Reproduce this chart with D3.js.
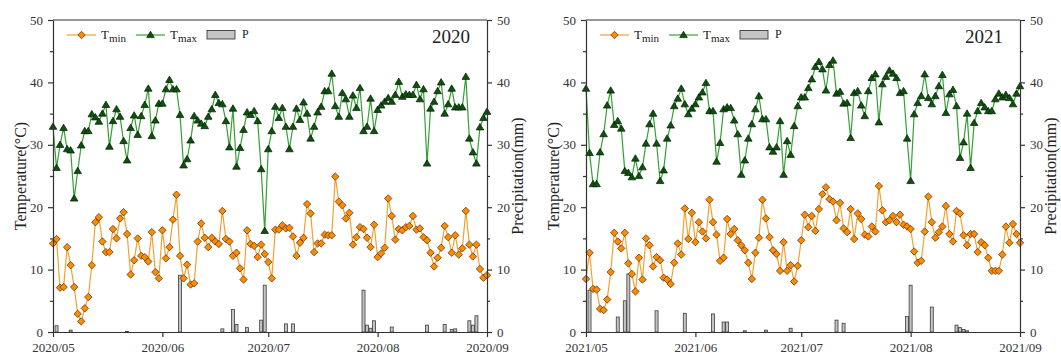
<!DOCTYPE html>
<html>
<head>
<meta charset="utf-8">
<script src="https://cdn.jsdelivr.net/npm/d3@7"></script>
<style>
  body { margin: 0; background: #fff; }
</style>
</head>
<body>
<div id="chart"></div>
<script>
/* global d3 */

// daily values, 1 May -> 1 Sep
const tmin2020 = [
  14.2, 14.9, 7.1, 7.2, 13.6, 10.7, 7.2, 2.9, 1.7, 3.8, 5.6, 10.7, 17.6, 18.4, 14.5, 12.8,
  12.8, 16.5, 15.0, 18.2, 19.2, 15.7, 9.2, 11.5, 15.0, 12.2, 12.0, 11.3, 16.0, 9.6, 8.6,
  16.3, 11.8, 13.6, 18.0, 22.0, 12.2, 8.6, 10.8, 7.6, 7.8, 14.5, 17.4, 15.1, 13.6, 15.1,
  14.5, 14.1, 19.4, 14.9, 14.5, 12.2, 12.7, 10.2, 8.4, 16.3, 14.1, 13.8, 12.0, 14.0, 12.5,
  11.2, 8.6, 16.4, 16.4, 17.1, 16.6, 16.7, 15.3, 12.2, 14.3, 15.1, 20.5, 19.0, 12.8, 14.2,
  14.2, 15.6, 15.5, 15.5, 24.9, 20.9, 20.3, 18.2, 19.1, 14.0, 15.2, 16.8, 16.5, 15.1, 13.6, 17.2,
  12.0, 12.6, 13.5, 21.4, 18.6, 14.8, 16.5, 16.3, 16.8, 17.0, 18.6, 16.4, 16.6, 15.2, 14.7,
  12.7, 10.5, 11.9, 13.5, 17.0, 15.2, 12.7, 15.5, 12.4, 13.4, 19.4, 14.0, 12.1, 14.0, 10.1, 8.7, 9.1,
];
const tmax2020 = [
  32.9, 26.3, 30.0, 32.7, 29.3, 29.1, 21.4, 25.8, 29.9, 32.2, 32.2, 34.9, 34.4, 33.7, 35.0, 36.4,
  29.7, 33.8, 35.7, 34.5, 30.6, 27.5, 32.7, 34.7, 31.6, 34.6, 36.4, 39.0, 31.4, 33.9, 36.6,
  36.6, 38.9, 40.4, 38.9, 38.9, 34.8, 26.7, 27.7, 30.7, 34.6, 33.9, 33.4, 33.0, 34.5, 35.7,
  38.0, 36.7, 36.5, 33.8, 29.6, 35.8, 26.5, 29.5, 32.4, 35.2, 34.8, 35.4, 33.8, 26.1, 16.2,
  29.3, 32.2, 36.1, 34.3, 35.9, 32.9, 29.3, 32.9, 35.8, 34.0, 36.8, 35.0, 31.0, 32.9, 35.2,
  36.1, 38.6, 38.6, 41.4, 36.2, 34.5, 38.3, 37.3, 34.5, 37.9, 35.9, 39.1, 32.2, 32.9, 37.4, 32.2,
  35.6, 36.3, 36.9, 37.5, 36.9, 38.0, 40.1, 37.7, 38.1, 38.0, 38.0, 39.6, 37.3, 38.9, 27.0,
  35.8, 36.9, 38.6, 40.0, 35.0, 36.5, 39.0, 36.0, 36.0, 36.0, 40.9, 31.0, 28.8, 27.0, 32.8, 34.3, 35.3,
];
const tmin2021 = [
  8.5, 12.7, 6.9, 6.8, 3.7, 3.5, 5.2, 9.6, 15.9, 14.5, 13.4, 15.9, 11.0, 9.3, 6.5, 11.9,
  8.4, 15.0, 13.9, 10.5, 12.0, 11.5, 8.7, 8.4, 7.7, 11.1, 14.2, 12.4, 19.8, 14.9, 19.1,
  14.4, 17.6, 16.1, 15.0, 21.2, 17.6, 15.6, 11.4, 11.9, 18.1, 15.7, 16.5, 14.7, 13.9, 13.1,
  11.1, 8.5, 12.7, 15.1, 21.2, 18.2, 15.2, 13.1, 12.5, 9.8, 14.4, 9.8, 10.7, 8.1, 10.6,
  14.7, 18.8, 16.8, 18.6, 16.2, 19.7, 22.1, 23.2, 21.3, 20.9, 17.9, 20.7, 16.6, 16.0, 19.7,
  14.9, 19.0, 18.1, 15.6, 15.3, 16.9, 16.1, 23.4, 19.5, 17.6, 17.9, 18.6, 17.6, 18.8, 17.2, 16.9,
  16.5, 12.9, 11.1, 11.4, 16.1, 21.7, 17.6, 15.1, 16.0, 16.9, 20.2, 15.7, 14.5, 19.4, 19.0,
  15.5, 13.9, 15.7, 15.7, 12.8, 14.4, 13.9, 11.9, 9.8, 9.8, 9.8, 12.4, 16.9, 14.3, 17.3, 15.7, 14.3,
];
const tmax2021 = [
  39.0, 28.7, 23.7, 23.7, 28.8, 31.7, 36.3, 38.7, 33.2, 33.8, 32.6, 25.8, 25.5, 24.8, 27.8, 25.0,
  26.4, 30.2, 33.3, 35.0, 30.2, 24.2, 25.9, 31.0, 33.1, 36.2, 37.4, 39.0, 36.5, 34.9, 35.8,
  36.5, 37.6, 38.4, 39.9, 35.4, 35.4, 27.3, 30.3, 35.7, 36.0, 35.9, 33.9, 31.7, 25.2, 27.5,
  31.0, 33.3, 35.7, 37.8, 34.1, 34.1, 29.6, 28.9, 29.6, 33.8, 25.2, 30.6, 28.4, 33.0, 36.2,
  37.6, 37.6, 39.1, 40.5, 42.5, 43.3, 42.1, 38.7, 42.8, 43.5, 38.2, 38.5, 36.6, 36.7, 31.1,
  38.3, 38.6, 36.3, 34.6, 38.6, 40.7, 41.3, 33.6, 39.7, 40.9, 41.9, 41.4, 40.7, 38.3, 38.6, 31.0,
  24.2, 34.9, 36.7, 37.8, 41.3, 37.5, 36.5, 37.8, 39.4, 41.2, 35.1, 38.1, 38.8, 36.2, 27.9,
  30.4, 35.0, 26.3, 33.5, 35.4, 36.7, 36.0, 35.4, 35.4, 37.3, 38.2, 37.6, 38.0, 37.5, 36.5, 38.2, 39.4,
];

// precipitation, only the rainy days
const pDates2020 = [
  '2020-05-02', '2020-05-06', '2020-05-22', '2020-06-06', '2020-06-18', '2020-06-21',
  '2020-06-22', '2020-06-25', '2020-06-29', '2020-06-30', '2020-07-06', '2020-07-08',
  '2020-07-28', '2020-07-29', '2020-07-30', '2020-07-31', '2020-08-05', '2020-08-15',
  '2020-08-20', '2020-08-22', '2020-08-23', '2020-08-27', '2020-08-28', '2020-08-29',
];
const pVals2020 = [
  1.0, 0.3, 0.1, 9.1, 0.5, 3.6, 1.2, 0.7, 1.9, 7.5, 1.3, 1.3,
  6.7, 1.1, 0.6, 1.8, 0.8, 1.1, 1.2, 0.4, 0.5, 1.8, 1.1, 2.6,
];
const pDates2021 = [
  '2021-05-02', '2021-05-10', '2021-05-12', '2021-05-13', '2021-05-21', '2021-05-29',
  '2021-06-06', '2021-06-09', '2021-06-10', '2021-06-15', '2021-06-21', '2021-06-28',
  '2021-07-11', '2021-07-13', '2021-07-31', '2021-08-01', '2021-08-07', '2021-08-14',
  '2021-08-15', '2021-08-16', '2021-08-17',
];
const pVals2021 = [
  6.7, 2.4, 5.0, 9.3, 3.4, 3.0, 2.9, 1.6, 1.6, 0.2, 0.3, 0.6,
  1.9, 1.4, 2.5, 7.5, 4.0, 1.1, 0.7, 0.4, 0.2,
];

const majorTicks = [0, 10, 20, 30, 40, 50];
const minorTicks = [5, 15, 25, 35, 45];

const width = 1061;
const height = 356;
const plotTop = 20;
const plotBottom = 332;
const font = '"Liberation Serif", "Times New Roman", serif';
const axisColor = '#333';

const parseDate = d3.timeParse('%Y-%m-%d');

const svg = d3.select('#chart')
  .append('svg')
  .attr('width', width)
  .attr('height', height)
  .style('font-family', font);

const y = d3.scaleLinear().domain([0, 50]).range([plotBottom, plotTop]);

const diamond = 'M0,-3.7L3.7,0L0,3.7L-3.7,0Z';
const triangle = 'M0,-3.8L3.8,2.6L-3.8,2.6Z';

const styleAxis = (g) => {
  g.selectAll('path, line').attr('stroke', axisColor).attr('stroke-width', 1.2);
  g.selectAll('text')
    .attr('fill', '#333')
    .style('font-family', font)
    .style('font-size', '13px');
};

const makePanel = (cfg) => {
  const start = parseDate(cfg.start);
  const end = parseDate(cfg.end);
  const x = d3.scaleTime().domain([start, end]).range([cfg.left, cfg.right]);
  const days = cfg.tmin.map((v, i) => d3.timeDay.offset(start, i));

  const g = svg.append('g');

  // precipitation bars
  const rain = cfg.pDates.map((d, i) => ({ date: parseDate(d), v: cfg.pVals[i] }));
  g.selectAll('.bar')
    .data(rain)
    .enter()
    .append('rect')
    .attr('class', 'bar')
    .attr('x', (d) => x(d.date) - 1.5)
    .attr('width', 3)
    .attr('y', (d) => y(d.v))
    .attr('height', (d) => y(0) - y(d.v))
    .attr('fill', '#c4c4c4')
    .attr('stroke', '#3c3c3c')
    .attr('stroke-width', 0.8);

  const line = d3.line()
    .x((d, i) => x(days[i]))
    .y((d) => y(d));

  g.append('path')
    .datum(cfg.tmin)
    .attr('d', line)
    .attr('fill', 'none')
    .attr('stroke', '#f5a02e')
    .attr('stroke-width', 1.2);

  g.append('path')
    .datum(cfg.tmax)
    .attr('d', line)
    .attr('fill', 'none')
    .attr('stroke', '#35a035')
    .attr('stroke-width', 1.2);

  g.selectAll('.tmin')
    .data(cfg.tmin)
    .enter()
    .append('path')
    .attr('class', 'tmin')
    .attr('d', diamond)
    .attr('transform', (d, i) => `translate(${x(days[i])},${y(d)})`)
    .attr('fill', '#ff8c00')
    .attr('stroke', '#4a2800')
    .attr('stroke-width', 0.7);

  g.selectAll('.tmax')
    .data(cfg.tmax)
    .enter()
    .append('path')
    .attr('class', 'tmax')
    .attr('d', triangle)
    .attr('transform', (d, i) => `translate(${x(days[i])},${y(d)})`)
    .attr('fill', '#0d520d')
    .attr('stroke', '#031a03')
    .attr('stroke-width', 0.7);

  // frame + axes
  svg.append('line')
    .attr('x1', cfg.left)
    .attr('x2', cfg.right)
    .attr('y1', plotTop)
    .attr('y2', plotTop)
    .attr('stroke', axisColor)
    .attr('stroke-width', 1.2);

  svg.append('g')
    .attr('transform', `translate(${cfg.left},0)`)
    .call(d3.axisLeft(y).tickValues(majorTicks).tickSize(5).tickSizeOuter(0).tickPadding(5))
    .call(styleAxis);
  svg.append('g')
    .attr('transform', `translate(${cfg.left},0)`)
    .call(d3.axisLeft(y).tickValues(minorTicks).tickSize(3).tickFormat(''))
    .call((a) => a.select('.domain').remove())
    .call(styleAxis);

  svg.append('g')
    .attr('transform', `translate(${cfg.right},0)`)
    .call(d3.axisRight(y).tickValues(majorTicks).tickSize(5).tickSizeOuter(0).tickPadding(5))
    .call(styleAxis);
  svg.append('g')
    .attr('transform', `translate(${cfg.right},0)`)
    .call(d3.axisRight(y).tickValues(minorTicks).tickSize(3).tickFormat(''))
    .call((a) => a.select('.domain').remove())
    .call(styleAxis);

  svg.append('g')
    .attr('transform', `translate(0,${plotBottom})`)
    .call(d3.axisBottom(x)
      .tickValues(d3.timeMonth.range(start, d3.timeDay.offset(end, 1)))
      .tickFormat(d3.timeFormat('%Y/%m'))
      .tickSize(5)
      .tickSizeOuter(0)
      .tickPadding(6))
    .call(styleAxis);

  // axis titles
  svg.append('text')
    .attr('transform', `translate(${cfg.left - 27},176) rotate(-90)`)
    .attr('text-anchor', 'middle')
    .style('font-size', '16px')
    .attr('fill', '#222')
    .text('Temperature(°C)');

  svg.append('text')
    .attr('transform', `translate(${cfg.right + 36},176) rotate(-90)`)
    .attr('text-anchor', 'middle')
    .style('font-size', '16px')
    .attr('fill', '#222')
    .text('Precipitation(mm)');

  // year
  svg.append('text')
    .attr('x', cfg.right - 17)
    .attr('y', 43)
    .attr('text-anchor', 'end')
    .style('font-size', '19px')
    .attr('fill', '#222')
    .text(cfg.year);

  // legend
  const legend = svg.append('g')
    .attr('transform', `translate(${cfg.left},35)`);

  legend.append('line')
    .attr('x1', 14).attr('x2', 43)
    .attr('stroke', '#f5a02e').attr('stroke-width', 1.2);
  legend.append('path')
    .attr('d', diamond)
    .attr('transform', 'translate(28.5,0)')
    .attr('fill', '#ff8c00').attr('stroke', '#4a2800').attr('stroke-width', 0.7);
  const t1 = legend.append('text').attr('x', 48).attr('y', 3.5)
    .style('font-size', '13px').attr('fill', '#222');
  t1.append('tspan').text('T');
  t1.append('tspan').attr('dy', 3).style('font-size', '11px').text('min');

  legend.append('line')
    .attr('x1', 83).attr('x2', 112)
    .attr('stroke', '#35a035').attr('stroke-width', 1.2);
  legend.append('path')
    .attr('d', triangle)
    .attr('transform', 'translate(97.5,0)')
    .attr('fill', '#0d520d').attr('stroke', '#031a03').attr('stroke-width', 0.7);
  const t2 = legend.append('text').attr('x', 117).attr('y', 3.5)
    .style('font-size', '13px').attr('fill', '#222');
  t2.append('tspan').text('T');
  t2.append('tspan').attr('dy', 3).style('font-size', '11px').text('max');

  legend.append('rect')
    .attr('x', 154).attr('y', -4.5)
    .attr('width', 28).attr('height', 8.5)
    .attr('fill', '#c4c4c4').attr('stroke', '#3c3c3c').attr('stroke-width', 0.9);
  legend.append('text').attr('x', 189).attr('y', 3)
    .style('font-size', '12px').attr('fill', '#222')
    .text('P');
};

makePanel({
  year: '2020',
  start: '2020-05-01',
  end: '2020-09-01',
  left: 53,
  right: 487,
  tmin: tmin2020,
  tmax: tmax2020,
  pDates: pDates2020,
  pVals: pVals2020,
});

makePanel({
  year: '2021',
  start: '2021-05-01',
  end: '2021-09-01',
  left: 586,
  right: 1020,
  tmin: tmin2021,
  tmax: tmax2021,
  pDates: pDates2021,
  pVals: pVals2021,
});
</script>
</body>
</html>
